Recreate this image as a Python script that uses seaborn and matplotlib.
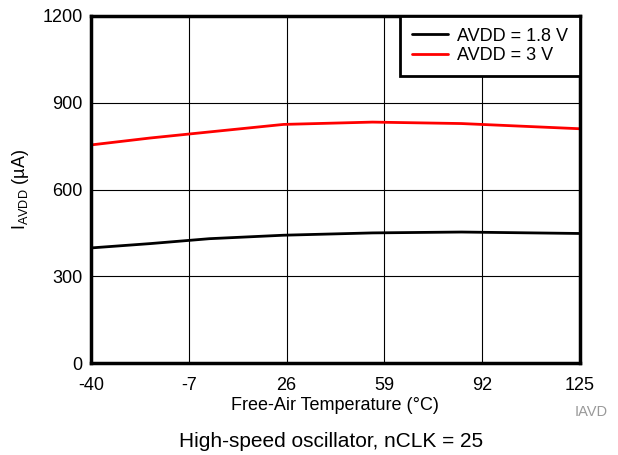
import numpy as np
import pandas as pd
import matplotlib
matplotlib.use("Agg")
import matplotlib.pyplot as plt
import seaborn as sns

# data
temps = [-40, -20, 0, 25, 55, 85, 125]
i_18v = [398, 413, 430, 442, 450, 453, 448]
i_3v = [754, 778, 799, 825, 833, 828, 810]
series_names = ["AVDD = 1.8 V", "AVDD = 3 V"]
x_ticks = [-40, -7, 26, 59, 92, 125]
y_ticks = [0, 300, 600, 900, 1200]

df = pd.DataFrame({
    "temp": temps * 2,
    "current": i_18v + i_3v,
    "supply": [series_names[0]] * len(temps) + [series_names[1]] * len(temps),
})

sns.set_style("white")
plt.rcParams["font.family"] = ["Liberation Sans", "DejaVu Sans"]
plt.rcParams["axes.unicode_minus"] = False
plt.rcParams["text.color"] = "black"
plt.rcParams["axes.labelcolor"] = "black"
plt.rcParams["xtick.color"] = "black"
plt.rcParams["ytick.color"] = "black"

fig = plt.figure(figsize=(6.18, 4.55), dpi=100)
ax = fig.add_axes([0.147, 0.202, 0.7915, 0.763])

sns.lineplot(data=df, x="temp", y="current", hue="supply",
             palette=["black", "red"], linewidth=2, ax=ax)

ax.set_xlim(-40, 125)
ax.set_ylim(0, 1200)
ax.set_xticks(x_ticks)
ax.set_yticks(y_ticks)
ax.grid(True, color="black", linewidth=0.8)
ax.tick_params(axis="both", labelsize=13, length=0)
ax.tick_params(axis="x", pad=10)
ax.tick_params(axis="y", pad=6)
for s in ax.spines.values():
    s.set_linewidth(2.5)
    s.set_color("black")

ax.set_xlabel("Free-Air Temperature (°C)", fontsize=13, labelpad=2)
ax.set_ylabel("I$_{\\mathregular{AVDD}}$ (µA)", fontsize=13, labelpad=8)

leg = ax.legend(loc="upper right", fontsize=13, frameon=True, fancybox=False,
                borderaxespad=0, handlelength=2.0, handletextpad=0.5,
                labelspacing=0.15, borderpad=0.65)
leg.get_frame().set_edgecolor("black")
leg.get_frame().set_linewidth(2)
leg.get_frame().set_alpha(1)
leg.set_title(None)

fig.text(0.983, 0.094, "IAVD", ha="right", va="center", fontsize=10.5, color="#999999")
fig.text(0.535, 0.03, "High-speed oscillator, nCLK = 25", ha="center",
         va="center", fontsize=15)

fig.savefig("out.png", dpi=100)
